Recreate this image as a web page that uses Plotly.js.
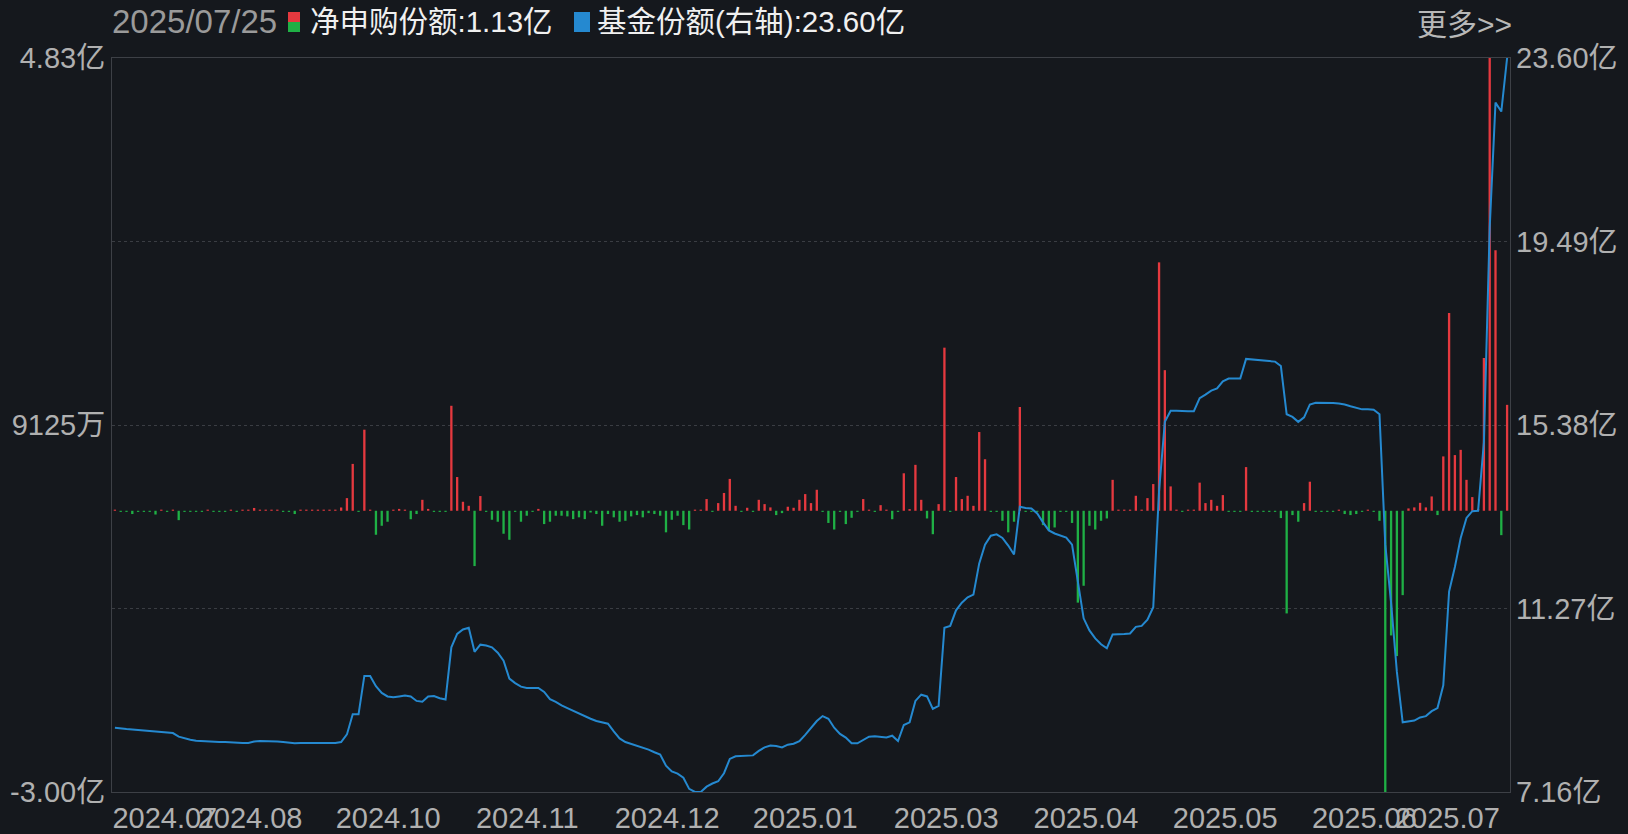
<!DOCTYPE html>
<html>
<head>
<meta charset="utf-8">
<script src="https://cdn.plot.ly/plotly-3.0.1.min.js"></script>
<style>
  html, body { margin: 0; padding: 0; background: #15181d; }
  #chart { width: 1628px; height: 834px; }
</style>
</head>
<body>
<div id="chart"></div>
<script>
// ---- Data (units: 亿) ----
const headerDate = "2025/07/25";
const netSubLabel = "净申购份额:1.13亿";
const shareLabel = "基金份额(右轴):23.60亿";
const moreLabel = "更多>>";

// Net subscription per trading day (亿), left axis
const netSubscription = [
  0.012,-0.012,-0.012,-0.035,-0.012,-0.012,-0.012,-0.04,0.012,-0.012,
  0.012,-0.10,-0.012,-0.012,-0.012,-0.012,0.012,-0.012,-0.012,-0.012,
  0.012,-0.012,0.012,0.012,0.03,0.012,0.012,0.012,0.012,-0.012,
  -0.012,-0.035,0.012,0.012,0.012,0.012,0.012,0.012,0.012,0.035,
  0.135,0.50,-0.012,0.865,0.012,-0.256,-0.16,-0.117,0.012,0.02,
  0.012,-0.09,-0.035,0.117,0.02,-0.012,-0.012,-0.012,1.12,0.36,
  0.096,0.053,-0.59,0.157,-0.012,-0.096,-0.117,-0.245,-0.31,-0.012,
  -0.117,-0.053,-0.012,0.02,-0.142,-0.117,-0.053,-0.053,-0.06,-0.089,
  -0.07,-0.089,-0.018,-0.035,-0.16,-0.035,-0.07,-0.117,-0.107,-0.06,
  -0.046,-0.07,-0.025,-0.035,-0.053,-0.23,-0.096,-0.053,-0.153,-0.2,
  0.012,0.012,0.125,-0.012,0.082,0.19,0.34,0.053,-0.012,0.032,
  -0.012,0.117,0.071,0.036,-0.046,-0.025,0.043,0.032,0.117,0.178,
  0.082,0.224,-0.012,-0.13,-0.2,-0.012,-0.142,-0.075,-0.012,0.125,
  0.012,-0.012,0.06,0.012,-0.09,-0.012,0.40,0.018,0.49,0.117,
  -0.082,-0.25,0.071,1.74,-0.012,0.36,0.125,0.16,0.053,0.84,
  0.55,-0.012,-0.012,-0.107,-0.23,-0.117,1.107,-0.012,-0.012,-0.012,
  -0.153,-0.21,-0.178,-0.012,-0.012,-0.13,-0.98,-0.80,-0.16,-0.2,
  -0.107,-0.082,0.33,0.012,0.012,0.012,0.16,0.012,0.135,0.285,
  2.65,1.50,0.26,0.012,-0.012,0.012,0.012,0.30,0.082,0.117,
  0.053,0.167,-0.012,-0.012,-0.012,0.466,-0.012,-0.012,-0.012,-0.012,
  -0.012,-0.078,-1.095,-0.046,-0.117,0.082,0.31,-0.012,-0.012,-0.012,
  -0.012,0.012,-0.035,-0.046,-0.035,-0.012,0.012,-0.012,-0.107,-3.00,
  -1.33,-1.55,-0.90,0.025,0.036,0.085,0.036,0.153,-0.046,0.58,
  2.11,0.594,0.65,0.33,0.146,0.02,1.63,4.83,2.78,-0.26,
  1.13
];

// Fund shares (亿), right axis
const fundShares = [
  8.60,8.58,8.57,8.56,8.55,8.54,8.53,8.51,8.50,8.49,
  8.48,8.40,8.36,8.33,8.31,8.30,8.29,8.29,8.28,8.28,
  8.27,8.26,8.26,8.26,8.29,8.30,8.30,8.30,8.29,8.28,
  8.27,8.25,8.26,8.26,8.26,8.26,8.26,8.26,8.26,8.28,
  8.45,8.90,8.90,9.76,9.76,9.53,9.38,9.30,9.28,9.30,
  9.32,9.30,9.20,9.18,9.30,9.31,9.26,9.23,10.40,10.70,
  10.80,10.84,10.30,10.46,10.44,10.40,10.28,10.10,9.70,9.60,
  9.52,9.49,9.49,9.49,9.40,9.24,9.18,9.10,9.04,8.98,
  8.92,8.85,8.80,8.75,8.72,8.69,8.52,8.36,8.28,8.24,
  8.20,8.15,8.11,8.05,8.00,7.75,7.62,7.57,7.48,7.23,
  7.16,7.16,7.28,7.35,7.40,7.58,7.90,7.96,7.97,7.97,
  7.98,8.08,8.16,8.20,8.19,8.16,8.22,8.24,8.30,8.44,
  8.60,8.75,8.86,8.80,8.60,8.46,8.38,8.25,8.25,8.32,
  8.40,8.41,8.40,8.38,8.42,8.30,8.66,8.72,9.20,9.34,
  9.30,9.02,9.09,10.84,10.88,11.23,11.40,11.52,11.58,12.28,
  12.70,12.90,12.93,12.85,12.68,12.48,13.55,13.52,13.51,13.40,
  13.20,13.02,12.95,12.90,12.86,12.70,11.90,11.05,10.78,10.60,
  10.47,10.38,10.69,10.69,10.70,10.71,10.86,10.88,11.02,11.30,
  13.90,15.45,15.70,15.70,15.69,15.69,15.69,15.98,16.06,16.15,
  16.20,16.36,16.42,16.42,16.42,16.86,16.85,16.84,16.83,16.82,
  16.80,16.70,15.62,15.56,15.45,15.55,15.84,15.88,15.88,15.87,
  15.87,15.86,15.84,15.80,15.76,15.73,15.73,15.72,15.62,12.70,
  11.40,9.85,8.72,8.74,8.76,8.83,8.86,8.97,9.04,9.55,
  11.65,12.20,12.85,13.30,13.45,13.46,15.00,19.80,22.60,22.40,
  23.60
];

// X tick labels (month of the trading day at that index)
const tickLabels = ["2024.07","2024.08","2024.10","2024.11","2024.12","2025.01","2025.03","2025.04","2025.05","2025.06","2025.07"];
const tickIndex  = [8.6, 23.3, 47.1, 71.1, 95.2, 119.0, 143.3, 167.4, 191.4, 215.4, 229.7];

// Left axis ticks
const leftTickVals = [-3.00, 0.9125, 4.83];
const leftTickText = ["-3.00亿", "9125万", "4.83亿"];
// Right axis ticks
const rightTickVals = [7.16, 11.27, 15.38, 19.49, 23.60];
const rightTickText = ["7.16亿", "11.27亿", "15.38亿", "19.49亿", "23.60亿"];

// ---- Styling ----
const RED = "#e5393f";
const GREEN = "#1fb045";
const BLUE = "#2589d0";
const BG = "#15181d";
const AXIS_GRAY = "#b0b0b0";
const LINE_GRAY = "#3d4046";
const FONT = "Liberation Sans, Noto Sans CJK SC, sans-serif";

const xIdx = netSubscription.map((_, i) => i);

const barTrace = {
  type: "bar",
  x: xIdx,
  y: netSubscription,
  width: 0.4,
  marker: { color: netSubscription.map(v => v >= 0 ? RED : GREEN), line: { width: 0 } },
  yaxis: "y",
  hoverinfo: "skip",
  showlegend: false
};

const lineTrace = {
  type: "scatter",
  mode: "lines",
  x: xIdx,
  y: fundShares,
  line: { color: BLUE, width: 2 },
  yaxis: "y2",
  hoverinfo: "skip",
  showlegend: false
};

// paper-coordinate helpers for plot area (l=112, t=58, w=1398, h=734)
const px = v => (v - 112) / 1398;
const py = v => (792 - v) / 734;

const layout = {
  width: 1628,
  height: 834,
  paper_bgcolor: BG,
  plot_bgcolor: BG,
  margin: { l: 112, r: 118, t: 58, b: 42, pad: 0 },
  font: { family: FONT, color: AXIS_GRAY, size: 28 },
  xaxis: {
    range: [-0.5, netSubscription.length - 0.5],
    tickmode: "array",
    tickvals: tickIndex,
    ticktext: tickLabels,
    tickangle: 0,
    tickfont: { size: 29, color: AXIS_GRAY, family: FONT },
    ticks: "",
    ticklen: 0,
    showgrid: false,
    zeroline: false,
    showline: true,
    linecolor: LINE_GRAY,
    linewidth: 1,
    mirror: true,
    fixedrange: true
  },
  yaxis: {
    range: [-3.00, 4.83],
    tickmode: "array",
    tickvals: leftTickVals,
    ticktext: leftTickText,
    tickfont: { size: 29, color: AXIS_GRAY, family: FONT },
    ticks: "",
    ticklen: 0,
    ticklabelstandoff: 0,
    showgrid: false,
    zeroline: false,
    showline: true,
    linecolor: LINE_GRAY,
    linewidth: 1,
    mirror: true,
    fixedrange: true
  },
  yaxis2: {
    overlaying: "y",
    side: "right",
    range: [7.16, 23.60],
    tickmode: "array",
    tickvals: rightTickVals,
    ticktext: rightTickText,
    tickfont: { size: 29, color: AXIS_GRAY, family: FONT },
    ticks: "",
    ticklen: 0,
    ticklabelstandoff: 5,
    showgrid: true,
    gridcolor: "#3a3d43",
    griddash: "dot",
    gridwidth: 1,
    zeroline: false,
    showline: false,
    fixedrange: true
  },
  shapes: [
    { type: "rect", xref: "paper", yref: "paper", x0: px(288), x1: px(300), y0: py(22), y1: py(12), fillcolor: RED, line: { width: 0 } },
    { type: "rect", xref: "paper", yref: "paper", x0: px(288), x1: px(300), y0: py(32), y1: py(22), fillcolor: GREEN, line: { width: 0 } },
    { type: "rect", xref: "paper", yref: "paper", x0: px(574), x1: px(590), y0: py(32), y1: py(12), fillcolor: BLUE, line: { width: 0 } }
  ],
  annotations: [
    { xref: "paper", yref: "paper", x: px(110), y: py(22), xanchor: "left", yanchor: "middle", showarrow: false,
      text: headerDate, font: { size: 33, color: "#9a9a9a", family: FONT } },
    { xref: "paper", yref: "paper", x: px(308), y: py(22), xanchor: "left", yanchor: "middle", showarrow: false,
      text: netSubLabel, font: { size: 29.5, color: "#f0f0f0", family: FONT } },
    { xref: "paper", yref: "paper", x: px(595), y: py(22), xanchor: "left", yanchor: "middle", showarrow: false,
      text: shareLabel, font: { size: 29.5, color: "#f0f0f0", family: FONT } },
    { xref: "paper", yref: "paper", x: px(1514), y: py(24), xanchor: "right", yanchor: "middle", showarrow: false,
      text: moreLabel, font: { size: 30, color: "#b8b8b8", family: FONT } }
  ]
};

Plotly.newPlot("chart", [barTrace, lineTrace], layout, { displayModeBar: false, staticPlot: true });
</script>
</body>
</html>
